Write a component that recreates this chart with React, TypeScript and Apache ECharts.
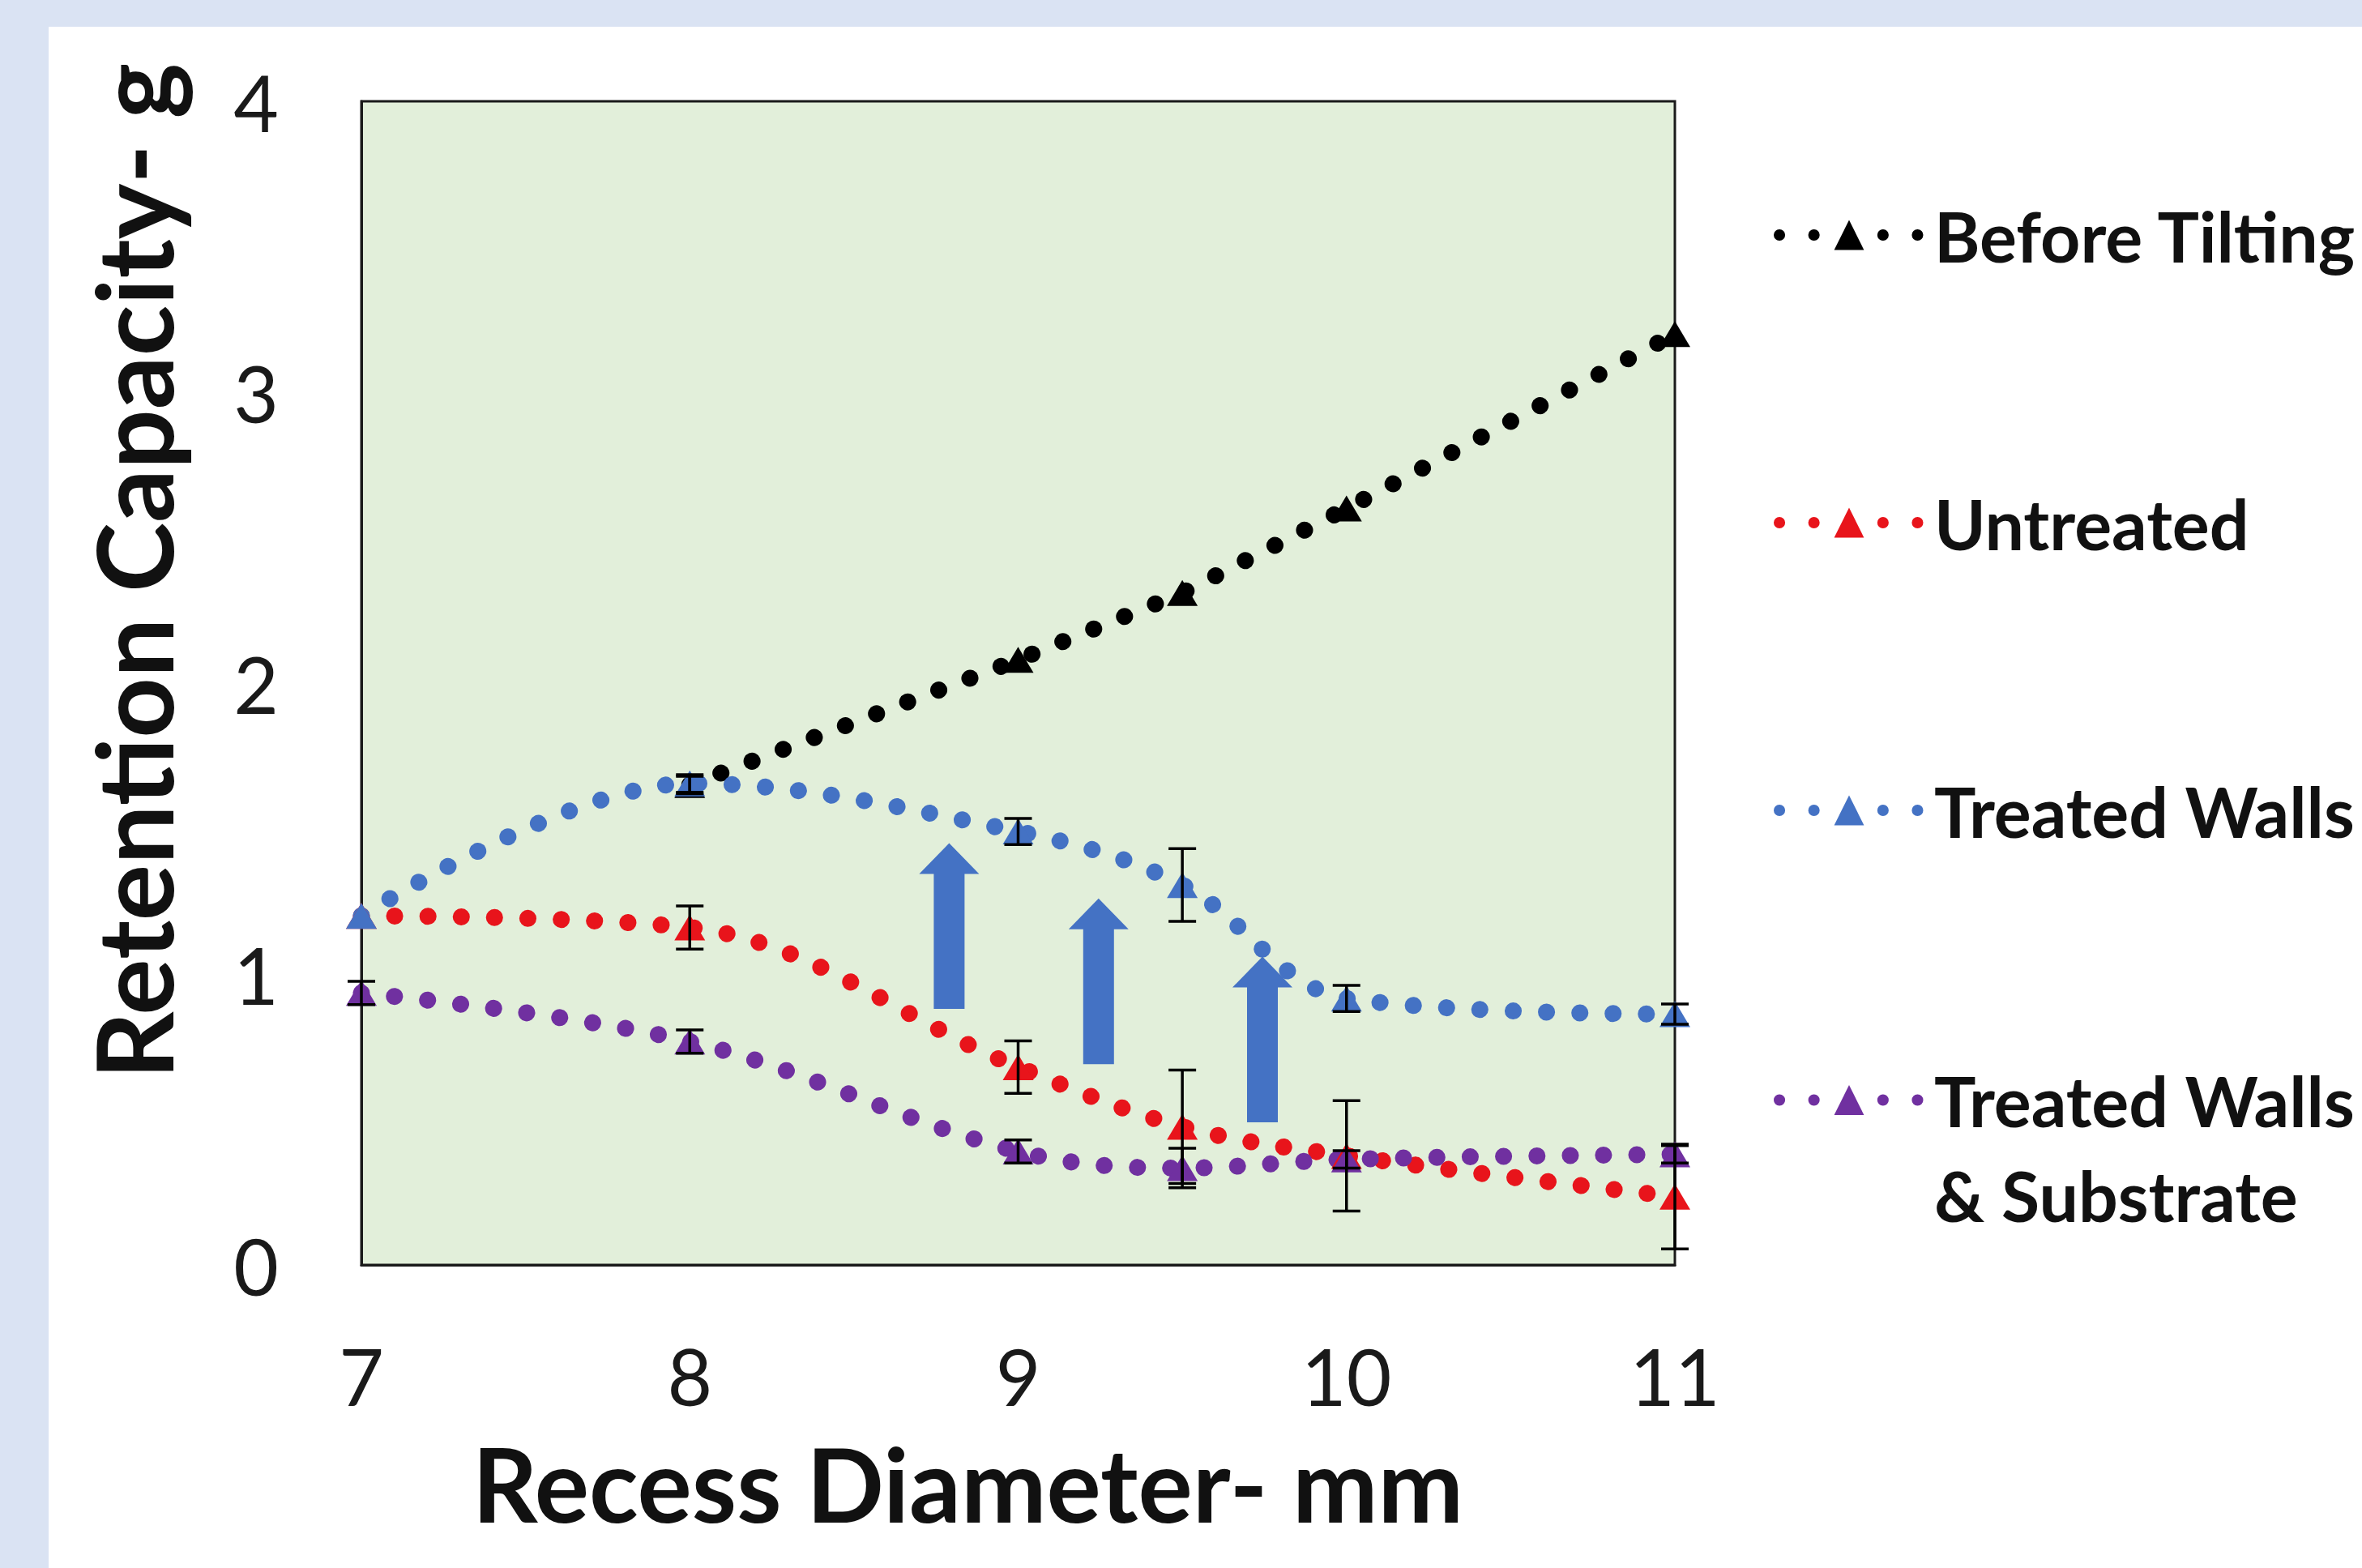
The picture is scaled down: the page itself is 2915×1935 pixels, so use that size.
import React, { useEffect, useRef } from "react";
import * as echarts from "echarts";

// ---- data ----
const xValues = [7, 8, 9, 9.5, 10, 11];
const seriesNames = ["Before Tilting", "Untreated", "Treated Walls", "Treated Walls & Substrate"];
const beforeTilting = [null, 1.65, 2.08, 2.31, 2.6, 3.2];
const untreated = [1.2, 1.16, 0.68, 0.475, 0.375, 0.235];
const treatedWalls = [1.2, 1.655, 1.49, 1.306, 0.916, 0.862];
const treatedWallsSubstrate = [0.935, 0.768, 0.39, 0.333, 0.363, 0.38];
const beforeTiltingErr = [0, 0.03, 0.02, 0.02, 0.02, 0.02];
const untreatedErr = [0.02, 0.074, 0.09, 0.195, 0.19, 0.18];
const treatedWallsErr = [0.02, 0.03, 0.045, 0.125, 0.045, 0.035];
const treatedWallsSubstrateErr = [0.04, 0.04, 0.04, 0.068, 0.03, 0.03];
const arrowX = [8.79, 9.245, 9.744];
const arrowFrom = [0.88, 0.69, 0.49];
const arrowTo = [1.45, 1.26, 1.06];
const xTicks = [7, 8, 9, 10, 11];
const yTicks = [0, 1, 2, 3, 4];

const colors = ["#000000", "#E8141B", "#4472C4", "#7030A0"];

export default function App() {
  const ref = useRef<HTMLDivElement>(null);
  useEffect(() => {
    document.body.style.margin = "0";
    const chart = echarts.init(ref.current!, null, { renderer: "svg" });
    const all = [beforeTilting, untreated, treatedWalls, treatedWallsSubstrate];
    const errs = [beforeTiltingErr, untreatedErr, treatedWallsErr, treatedWallsSubstrateErr];

    const lineSeries = all.map((vals, si) => ({
      type: "line",
      name: seriesNames[si],
      data: xValues
        .map((x, i) => [x, vals[i]])
        .filter((d) => d[1] !== null),
      smooth: si === 0 ? false : 0.35,
      symbol: "triangle",
      symbolSize: [38, 32],
      itemStyle: { color: colors[si] },
      lineStyle: { color: colors[si], width: 21, type: [0.1, 41], cap: "round" },
      z: 2,
    }));

    const errRows: number[][] = [];
    all.forEach((vals, si) => {
      vals.forEach((v, i) => {
        if (v !== null && errs[si][i] > 0.025) errRows.push([xValues[i], v as number, errs[si][i]]);
      });
    });

    const errorSeries = {
      type: "custom",
      name: "errors",
      dimensions: ["x", "y", "e"],
      encode: { x: 0, y: 1 },
      data: errRows,
      z: 3,
      clip: false,
      renderItem: (params: any, api: any) => {
        const x = api.value(0);
        const y = api.value(1);
        const e = api.value(2);
        const top = api.coord([x, y + e]);
        const bot = api.coord([x, y - e]);
        const hw = 17;
        const st = { stroke: "#000", lineWidth: 3.5 };
        return {
          type: "group",
          children: [
            { type: "line", shape: { x1: top[0], y1: top[1], x2: bot[0], y2: bot[1] }, style: st },
            { type: "line", shape: { x1: top[0] - hw, y1: top[1], x2: top[0] + hw, y2: top[1] }, style: st },
            { type: "line", shape: { x1: bot[0] - hw, y1: bot[1], x2: bot[0] + hw, y2: bot[1] }, style: st },
          ],
        };
      },
    };

    const arrowSeries = {
      type: "custom",
      name: "arrows",
      dimensions: ["x", "from", "to"],
      encode: { x: 0, y: [1, 2] },
      data: arrowX.map((x, i) => [x, arrowFrom[i], arrowTo[i]]),
      z: 5,
      renderItem: (params: any, api: any) => {
        const x = api.value(0);
        const b = api.coord([x, api.value(1)]);
        const t = api.coord([x, api.value(2)]);
        const cx = b[0];
        const sw = 19;
        const hw = 37;
        const hh = 38;
        return {
          type: "polygon",
          shape: {
            points: [
              [cx - sw, b[1]],
              [cx + sw, b[1]],
              [cx + sw, t[1] + hh],
              [cx + hw, t[1] + hh],
              [cx, t[1]],
              [cx - hw, t[1] + hh],
              [cx - sw, t[1] + hh],
            ],
          },
          style: { fill: "#4472C4" },
        };
      },
    };

    const legendCommon = {
      orient: "vertical",
      left: 2184,
      itemWidth: 172,
      itemHeight: 46,
      selectedMode: false,
      lineStyle: { width: 14, type: [0.1, 42.5], cap: "round" },
    };

    chart.setOption({
      animation: false,
      backgroundColor: "#FFFFFF",
      graphic: [
        { type: "rect", shape: { x: 0, y: 0, width: 2915, height: 33 }, style: { fill: "#DAE3F3" } },
        { type: "rect", shape: { x: 0, y: 0, width: 60, height: 1935 }, style: { fill: "#DAE3F3" } },
      ],
      grid: {
        left: 446,
        right: 848,
        top: 125,
        bottom: 374,
        show: true,
        backgroundColor: "#E2EFDA",
        borderColor: "#1a1a1a",
        borderWidth: 3,
      },
      legend: [
        {
          ...legendCommon,
          top: 240,
          itemGap: 265,
          data: seriesNames.slice(0, 3),
          textStyle: {
            fontFamily: "Lato",
            fontWeight: "bold",
            fontSize: 86,
            color: "#111111",
            lineHeight: 90,
            padding: [0, 0, 0, 14],
          },
        },
        {
          ...legendCommon,
          top: 1177,
          data: [seriesNames[3]],
          formatter: () => "\nTreated Walls\n& Substrate",
          textStyle: {
            fontFamily: "Lato",
            fontWeight: "bold",
            fontSize: 86,
            color: "#111111",
            lineHeight: 117,
            padding: [0, 0, 0, 14],
          },
        },
      ],
      xAxis: {
        type: "value",
        min: xTicks[0],
        max: xTicks[xTicks.length - 1],
        interval: 1,
        axisLine: { show: true, lineStyle: { color: "#1a1a1a", width: 3 } },
        axisTick: { show: false },
        splitLine: { show: false },
        axisLabel: {
          fontFamily: "Lato",
          fontSize: 96,
          lineHeight: 96,
          color: "#1a1a1a",
          margin: 88,
        },
        name: "Recess Diameter- mm",
        nameLocation: "middle",
        nameGap: 206,
        nameTextStyle: {
          fontFamily: "Lato",
          fontWeight: "bold",
          fontSize: 126,
          lineHeight: 126,
          color: "#111111",
          padding: [0, 124, 0, 0],
        },
      },
      yAxis: {
        type: "value",
        min: yTicks[0],
        max: yTicks[yTicks.length - 1],
        interval: 1,
        axisLine: { show: true, lineStyle: { color: "#1a1a1a", width: 3 } },
        axisTick: { show: false },
        splitLine: { show: false },
        axisLabel: {
          fontFamily: "Lato",
          fontSize: 96,
          lineHeight: 96,
          color: "#1a1a1a",
          margin: 102,
          padding: [0, 0, 24, 0],
        },
        name: "Retention Capacity- g",
        nameLocation: "middle",
        nameGap: 214,
        nameTextStyle: {
          fontFamily: "Lato",
          fontWeight: "bold",
          fontSize: 130,
          lineHeight: 136,
          color: "#111111",
          padding: [0, 0, 0, 276],
        },
      },
      series: [...lineSeries, errorSeries, arrowSeries],
    });
    return () => chart.dispose();
  }, []);
  return <div ref={ref} style={{ width: 2915, height: 1935 }} />;
}
